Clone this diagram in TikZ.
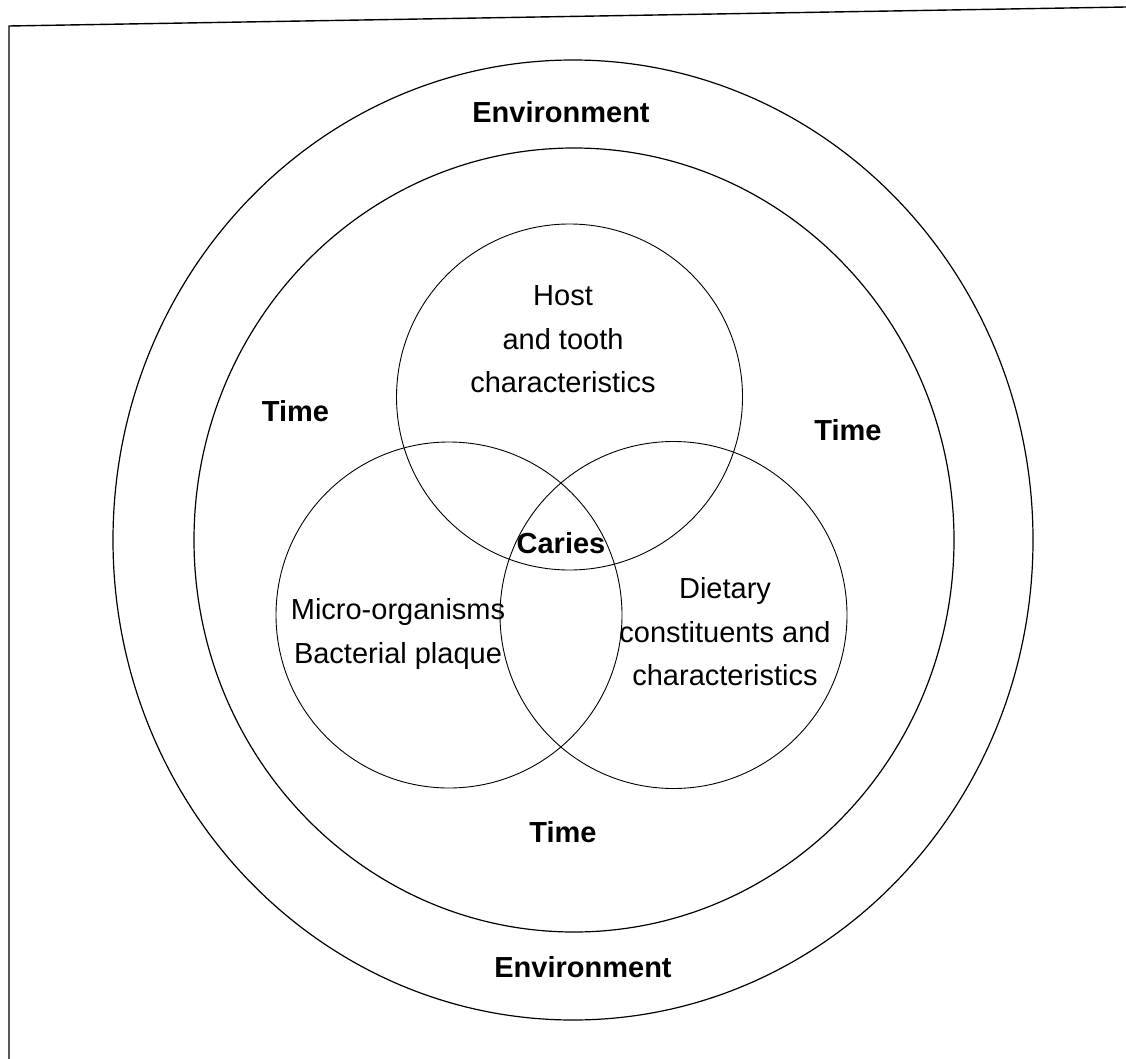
\documentclass[tikz,border=0pt]{standalone}
\usepackage{fontspec}
\setmainfont{Liberation Sans}
\begin{document}
\begin{tikzpicture}[x=1pt,y=-1pt,
  ring/.style={draw=black,line width=1.2pt},
  factor/.style={draw=black,line width=0.9pt},
  lbl/.style={inner sep=0pt,align=center,font=\fontsize{29}{43.5}\selectfont},
  blbl/.style={inner sep=0pt,font=\fontsize{29}{43.5}\selectfont\bfseries}]
\useasboundingbox (0,0) rectangle (1126,1059);
\fill[white] (0,0) rectangle (1126,1059);
% frame (top and left edges)
\coordinate (fb) at (9,1059);
\coordinate (ftl) at (9,26);
\coordinate (ftr) at (1126,7);
\draw[line width=1.4pt] (fb) -- (ftl) -- (ftr);
% environment and time rings
\draw[ring] (573,540) ellipse [x radius=460, y radius=480];
\draw[ring] (574,540) ellipse [x radius=380, y radius=392];
% the three factors
\draw[factor] (569.5,397) circle [radius=173];
\draw[factor] (449,615) circle [radius=173];
\draw[factor] (673.5,615) circle [radius=173.5];
% labels
\node[blbl,anchor=base] (envtop) at (561,123) {Environment};
\node[blbl,anchor=base] (envbot) at (583,977) {Environment};
\node[blbl,anchor=base] (timel) at (295.5,421) {Time};
\node[blbl,anchor=base] (timer) at (848,440) {Time};
\node[blbl,anchor=base] (timeb) at (563,842) {Time};
\node[lbl] (host) at (563,339.5) {Host\\and tooth\\characteristics};
\node[lbl] (micro) at (398,634) {Micro-organisms\\Bacterial plaque};
\node[lbl] (diet) at (725,632) {Dietary\\constituents and\\characteristics};
\node[blbl,anchor=base] (caries) at (561,553) {Caries};
\end{tikzpicture}
\end{document}
